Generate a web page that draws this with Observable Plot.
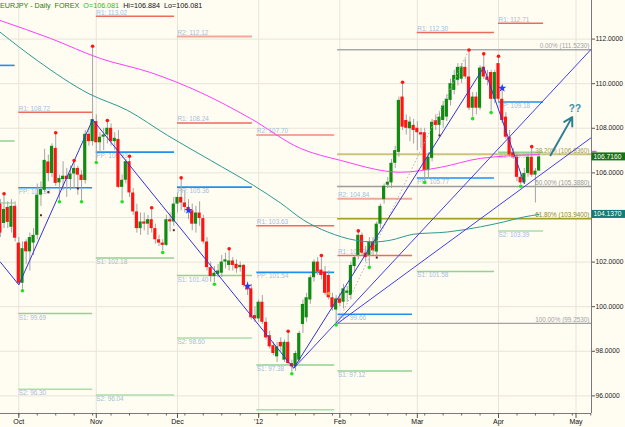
<!DOCTYPE html>
<html><head><meta charset="utf-8">
<script src="https://cdn.jsdelivr.net/npm/d3@7"></script>
<script src="https://cdn.jsdelivr.net/npm/@observablehq/plot@0.6"></script>
<style>
html,body{margin:0;padding:0;background:#fffcf2;}
#chart svg{display:block;}
</style></head><body><div id="chart"></div>
<script>
// ---------- data ----------
const symbolName = "EURJPY - Daily";
const market = "FOREX";
const firstIndex = -5; // bar index of first candle (0 = 3 Oct 2011)
const opens = [104.6,103.73,104.45,103.56,104.5,102.85,101.05,102.9,102.46,102.85,103.2,105.0,105.22,106.49,105.97,107.1,105.55,105.7,105.85,105.7,105.95,106.2,105.9,105.66,107.73,107.4,108.3,107.35,107.6,107.7,108.0,107.4,107.5,105.35,105.67,106.5,105.1,104.25,103.5,103.8,103.7,103.9,103.5,103.0,102.85,102.75,103.9,103.8,104.6,104.9,104.65,104.45,104.3,103.7,104.2,103.95,102.9,101.75,101.35,101.45,101.5,102.0,101.85,102.05,101.9,101.75,101.85,100.95,100.8,99.6,99.45,100.2,99.3,98.7,98.25,97.75,98.4,97.6,98.4,97.45,97.3,97.6,99.2,99.5,100.3,101.3,102.0,101.64,101.55,101.4,100.4,99.85,100.35,100.2,100.6,100.5,101.8,102.3,103.2,102.4,102.3,102.9,102.45,103.7,104.8,105.45,105.55,106.43,106.92,109.4,108.35,107.98,108.13,108.0,107.8,107.8,106.1,106.65,108.35,108.13,108.35,108.5,109.25,109.7,110.15,110.2,110.73,110.3,108.9,109.4,108.9,110.74,110.3,110.5,109.3,110.9,109.3,108.5,107.6,106.9,106.7,105.8,105.55,105.97,106.7,105.9,106.081];
const highs = [104.8,105.0,104.7,104.8,104.7,103.1,102.9,103.0,103.3,103.5,105.5,105.6,107.06,106.8,107.3,107.73,105.9,106.5,106.2,106.3,106.49,106.3,106.1,107.9,108.0,111.61,108.6,107.8,108.0,108.28,108.2,107.8,107.9,105.9,106.6,106.68,105.3,104.6,104.2,104.2,104.1,104.37,103.7,103.2,103.0,104.1,104.2,104.9,105.1,105.71,105.2,104.8,104.6,104.5,104.7,104.1,103.1,102.0,101.8,101.9,102.3,102.4,102.53,102.2,102.1,102.0,101.9,101.1,101.0,100.0,100.3,100.5,99.5,98.9,98.4,98.4,98.6,98.5,98.83,97.6,98.0,98.9,100.3,100.6,101.4,102.1,102.2,102.23,101.8,101.6,100.6,100.5,100.6,101.0,100.9,102.0,102.3,103.33,103.3,102.7,103.1,103.1,103.8,104.6,105.5,105.8,106.6,107.2,109.4,110.0,108.6,108.5,108.4,108.3,108.0,108.0,106.9,108.4,108.6,108.7,109.2,109.5,110.2,110.6,110.9,110.9,111.1,111.44,109.6,109.6,110.8,111.27,110.6,110.6,110.6,111.16,109.8,108.7,107.9,107.1,106.9,106.0,106.2,106.8,107.11,106.2,106.884];
const lows = [103.1,103.5,103.5,103.3,102.9,100.95,100.78,101.9,101.6,102.3,103.0,104.5,105.1,105.6,105.8,105.4,104.77,105.2,104.9,105.2,105.3,105.0,104.77,105.5,107.2,107.2,106.53,106.9,107.0,107.3,107.2,107.0,105.3,104.77,105.5,104.9,104.1,103.3,103.2,103.4,103.2,103.3,102.8,102.7,102.5,102.7,103.35,103.6,104.2,104.3,104.2,103.9,103.4,103.3,103.6,102.8,101.6,101.1,101.07,101.3,101.3,101.7,101.6,101.6,101.5,101.55,100.85,100.5,99.4,99.3,99.3,99.2,98.5,98.1,97.8,97.5,98.0,97.5,97.4,97.06,97.1,97.5,98.8,99.3,100.1,101.1,101.4,101.2,100.5,100.3,99.8,99.25,100.0,99.9,100.2,100.3,101.5,102.1,102.3,102.0,101.83,102.3,102.2,103.5,104.6,105.3,105.3,106.2,106.7,107.9,107.7,107.4,107.3,107.0,107.1,105.64,105.7,106.5,107.9,107.68,108.0,108.3,109.0,109.5,109.9,110.0,110.2,108.8,108.5,108.6,108.8,110.2,109.9,108.77,109.1,109.2,108.2,107.5,106.7,106.6,105.6,105.47,105.5,105.8,105.8,104.65,106.081];
const closes = [103.3,104.36,103.78,104.5,103.07,101.05,102.6,102.46,103.1,103.2,105.0,105.25,106.56,105.97,107.19,105.53,105.75,105.85,105.7,105.95,106.2,105.9,105.66,107.73,107.4,108.39,107.35,107.6,107.7,108.0,107.4,107.55,105.35,105.67,106.5,105.1,104.25,103.5,103.8,103.7,103.9,103.5,103.0,102.85,102.75,103.9,103.8,104.6,104.9,104.65,104.45,104.3,103.7,104.2,103.95,102.9,101.75,101.35,101.5,101.6,102.0,102.1,102.05,101.85,101.7,101.85,100.95,100.75,99.5,99.45,100.2,99.3,98.6,98.2,97.9,98.2,98.2,98.4,97.45,97.3,97.9,98.8,100.1,100.4,101.3,102.0,101.55,101.4,100.6,100.4,99.95,100.35,100.15,100.8,100.7,101.85,102.2,103.2,102.4,102.2,102.9,102.5,103.7,104.5,105.4,105.58,106.43,107.0,109.25,108.05,108.0,108.28,107.9,107.8,107.7,106.1,106.7,108.27,108.13,108.5,109.0,109.3,110.0,110.37,110.73,110.75,110.3,108.9,109.4,108.9,110.7,110.3,110.15,109.3,110.5,109.3,108.35,107.6,106.8,106.7,105.8,105.55,105.97,106.7,105.9,106.08,106.716];

const monthTicks = [0, 21, 43, 65, 87, 108, 130, 151];
const monthLabels = ["Oct", "Nov", "Dec", "'12", "Feb", "Mar", "Apr", "May"];
const priceTicks = [96, 98, 100, 102, 104, 106, 108, 110, 112];
const hiddenPriceLabels = [104]; // covered by the MA value box in the reference

// monthly pivot points (Sep .. Apr)
const pivotStart = [-5, 0, 21, 43, 64.5, 86.5, 108, 130];
const pivotEnd   = [-1, 20, 42.2, 63.3, 85.6, 106.7, 128.9, 142.2];
const pivotShown = [false, true, true, true, true, true, true, true];
const pivotR2 = [NaN, NaN, NaN, 112.12, 107.70, 104.84, NaN, NaN];
const pivotR1 = [NaN, 108.72, 113.02, 108.24, 103.63, 102.30, 112.30, 112.71];
const pivotPP = [110.82, 105.33, 106.93, 105.36, 101.54, 99.66, 105.77, 109.18];
const pivotS1 = [107.43, 99.69, 102.18, 101.40, 97.38, 97.12, 101.58, 106.92];
const pivotS2 = [104.65, 96.30, 96.04, 98.60, 95.38, NaN, NaN, 103.39];

// moving averages
const magentaIdx  = [-5, 8.6, 22.1, 35.7, 49.2, 62.8, 76.3, 87.2, 103.4, 114.3, 125.1, 141];
const magentaVals = [112.83, 112.03, 111.13, 110.50, 109.61, 108.44, 107.10, 106.56, 106.03, 106.25, 106.65, 106.82];
const tealIdx  = [-5, 5, 19, 29.5, 40.3, 52, 63.6, 71, 77.2, 83.7, 91.2, 96.1, 100.7, 107, 116.2, 125.1, 131.4, 136.8, 141];
const tealVals = [112.30, 111.04, 109.55, 108.80, 107.68, 106.56, 105.44, 104.64, 103.88, 103.35, 102.98, 102.90, 102.98, 103.25, 103.35, 103.58, 103.80, 104.02, 104.137];

// zigzag and trend lines
const zigIdx  = [-5, 0, 20, 74.5, 126, 137];
const zigVals = [102.0, 100.98, 108.39, 97.24, 110.74, 105.52];
const trendFrom = [[74.5, 97.24], [86.4, 99.25]];
const trendTo   = [[155.2, 111.56], [155.2, 107.59]];

// fibonacci retracement (99.253 -> 111.523)
const fibLowIdx = 86.4, fibHighIdx = 122;
const fibPct   = [0, 38.2, 50, 61.8, 100];
const fibVals  = [111.523, 106.836, 105.388, 103.940, 99.253];
const fibColor = ["#a9a9a9", "#cbc47e", "#9c9c9c", "#a59c22", "#a3a3a3"];
const fibText  = ["#a3a3a3", "#a39c52", "#9a9a9a", "#8f8a1e", "#a3a3a3"];

// swing markers
const swingHighIdx = [-4, 10, 15, 20, 24, 30, 36, 44, 57, 73, 82, 92, 104, 122, 126, 130, 139];
const swingHighVal = [105.0, 107.73, 106.49, 111.61, 108.28, 106.68, 104.37, 105.71, 102.53, 98.83, 102.23, 103.33, 110.0, 111.44, 111.27, 111.16, 107.11];
const swingLowIdx = [1, 11, 17, 21, 28, 39, 53, 74, 86, 95, 110, 123, 128, 136];
const swingLowVal = [100.78, 104.77, 104.77, 106.53, 104.77, 102.5, 101.07, 97.06, 99.25, 101.83, 105.64, 108.5, 108.77, 105.47];
const starIdx = [46, 62, 131];
const starVal = [104.32, 100.92, 109.8];
const tickMarkIdx = [6, 8, 16, 42, 97, 114];
const tickMarkVal = [104.1, 105.14, 105.3, 103.43, 102.2, 107.68];
const orangeIdx = [84], orangeVal = [100.59];

// projection arrow
const arrowFrom = [144.1, 106.79], arrowTo = [149.97, 108.5];
const arrowText = "??", arrowTextAt = [150.7, 108.87];

// ---------- build ----------
const X0 = -4.96, X1 = 155.2, Y0 = 95.21, Y1 = 113.73;
const bars = opens.map((o, k) => ({i: firstIndex + k, o, h: highs[k], l: lows[k], c: closes[k]}));
const lastBar = bars[bars.length - 1];

const levelNames = ["R2", "R1", "PP", "S1", "S2"];
const levelArrays = [pivotR2, pivotR1, pivotPP, pivotS1, pivotS2];
const levelColor = {R2: "#f3a797", R1: "#ee6b5b", PP: "#2090ef", S1: "#90d290", S2: "#a8dea8"};
const levelWidth = {R2: 2, R1: 1.5, PP: 1.6, S1: 1.5, S2: 1.5};
const pivots = [];
pivotStart.forEach((s, m) => {
  levelNames.forEach((name, j) => {
    const v = levelArrays[j][m];
    if (!isNaN(v)) pivots.push({x1: s, x2: pivotEnd[m], y: v, name, show: pivotShown[m] && v > 95.7,
      label: `${name}: ${v.toFixed(2)}`});
  });
});
const fibs = fibVals.map((v, k) => ({y: v, color: fibColor[k], tcolor: fibText[k],
  label: `${fibPct[k].toFixed(2)}% (${v.toFixed(4)})`}));
const zig = zigIdx.map((x, k) => ({x, y: zigVals[k]}));
const trends = trendFrom.map((f, k) => ({x1: f[0], y1: f[1], x2: trendTo[k][0], y2: trendTo[k][1]}));
const pts = (xs, ys) => xs.map((x, k) => ({x, y: ys[k]}));
const weekTicks = d3.range(-5, 156, 5);
const font = "'Liberation Sans', Arial, sans-serif";

const plot = Plot.plot({
  width: 625, height: 427,
  marginLeft: 0, marginRight: 34, marginTop: 0, marginBottom: 14,
  style: {background: "#fffcf2", fontFamily: font, overflow: "visible"},
  x: {domain: [X0, X1], axis: null},
  y: {domain: [Y0, Y1], axis: null},
  marks: [
    Plot.gridX(monthTicks, {stroke: "#e8e4da", strokeOpacity: 1}),
    Plot.gridY(priceTicks, {stroke: "#e8e4da", strokeOpacity: 1}),
    // pivot lines
    Plot.ruleY(pivots, {y: "y", x1: "x1", x2: "x2", stroke: d => levelColor[d.name], strokeWidth: d => levelWidth[d.name]}),
    Plot.text(pivots.filter(d => d.show && d.name[0] === "R"), {x: "x1", y: "y", text: "label", textAnchor: "start", lineAnchor: "bottom", dy: -1.5, fill: "#a6bedd", fontSize: 6.4}),
    Plot.text(pivots.filter(d => d.show && d.name[0] !== "R"), {x: "x1", y: "y", text: "label", textAnchor: "start", lineAnchor: "top", dy: 1.5, fill: "#a6bedd", fontSize: 6.4}),
    // fibonacci
    Plot.ruleY(fibs, {y: "y", x1: fibLowIdx, x2: X1, stroke: "color", strokeWidth: d => d.y === 106.836 ? 2 : 1.4}),
    Plot.text(fibs, {x: X1, y: "y", text: "label", textAnchor: "end", lineAnchor: "bottom", dx: -2, dy: -1.5, fill: "tcolor", fontSize: 6.4}),
    // candles
    Plot.ruleX(bars, {x: "i", y1: "l", y2: "h", stroke: "#a4a4a4", strokeWidth: 1}),
    Plot.rect(bars, {x1: d => d.i - 0.43, x2: d => d.i + 0.43, y1: "o", y2: "c",
      fill: d => d.c >= d.o ? "#118a11" : "#ff1414"}),
    // moving averages
    Plot.line(pts(tealIdx, tealVals), {x: "x", y: "y", stroke: "#2a9b92", strokeWidth: 1, curve: "monotone-x"}),
    Plot.line(pts(magentaIdx, magentaVals), {x: "x", y: "y", stroke: "#ff3dff", strokeWidth: 1, curve: "monotone-x"}),
    // fib diagonal + trend lines + zigzag
    Plot.link([{}], {x1: fibLowIdx, y1: fibVals[4], x2: fibHighIdx, y2: fibVals[0], stroke: "#b5b5b5", strokeDasharray: "1.5,2", strokeWidth: 1}),
    Plot.link(trends, {x1: "x1", y1: "y1", x2: "x2", y2: "y2", stroke: "#3f3ff0", strokeWidth: 1}),
    Plot.line(zig, {x: "x", y: "y", stroke: "#3333dd", strokeWidth: 1}),
    // markers
    Plot.dot(pts(swingHighIdx, swingHighVal), {x: "x", y: "y", r: 1.8, fill: "#ff1414", dy: -1.5}),
    Plot.dot(pts(swingLowIdx, swingLowVal), {x: "x", y: "y", r: 1.8, fill: "#22e022", dy: 1.5}),
    Plot.dot(pts(starIdx, starVal), {x: "x", y: "y", r: 2.6, symbol: "star", fill: "#1f3cff"}),
    Plot.dot(pts(tickMarkIdx, tickMarkVal), {x: "x", y: "y", r: 1.1, symbol: "square", fill: "#7a1010"}),
    Plot.dot(pts(orangeIdx, orangeVal), {x: "x", y: "y", r: 1.8, fill: "#ff9a1f"}),
    // projection arrow
    Plot.arrow([{}], {x1: arrowFrom[0], y1: arrowFrom[1], x2: arrowTo[0], y2: arrowTo[1], stroke: "#2f7f93", strokeWidth: 2, headLength: 7}),
    Plot.text([arrowText], {x: arrowTextAt[0], y: arrowTextAt[1], text: d => d, fill: "#3a8ea6", fontSize: 10, fontWeight: "bold"}),
    // frame + axes
    Plot.ruleY([Y0], {stroke: "#7a7a7a"}),
    Plot.ruleX([X1], {stroke: "#7a7a7a"}),
    Plot.axisY({anchor: "right", ticks: priceTicks, tickFormat: d => hiddenPriceLabels.includes(d) ? "" : d.toFixed(4), tickSize: 3, tickPadding: 1, fontSize: 6.7, stroke: "#555", fill: "#222"}),
    Plot.axisX({ticks: weekTicks.filter(t => t > X0 && t < X1), tickSize: 2.5, tickFormat: () => "", stroke: "#666"}),
    Plot.axisX({ticks: monthTicks, tickSize: 5, tickPadding: 1, tickFormat: d => monthLabels[monthTicks.indexOf(d)], fontSize: 7, stroke: "#555", fill: "#111"})
  ]
});

// header and value boxes (positioned with the plot's own scales)
const svg = d3.select(plot);
const ys = plot.scale("y");
const hdr = svg.append("text").attr("x", 0).attr("y", 7.5).attr("text-anchor", "start")
  .attr("font-size", 7.2).attr("font-family", font);
hdr.append("tspan").attr("fill", "#2c7d0c").text(`${symbolName}  ${market}`);
hdr.append("tspan").attr("dx", 4).attr("fill", "#18c218").text(`O=${lastBar.o.toFixed(3)}`);
hdr.append("tspan").attr("dx", 4).attr("fill", "#111").text(`Hi=${lastBar.h.toFixed(3)}`);
hdr.append("tspan").attr("dx", 4).attr("fill", "#111").text(`Lo=${lastBar.l.toFixed(3)}`);

const xr = 591.5;
const magEnd = ys.apply(magentaVals[magentaVals.length - 1]);
svg.append("line").attr("x1", xr).attr("x2", xr + 5).attr("y1", magEnd - 2.5).attr("y2", magEnd - 2.5).attr("stroke", "#ff3dff").attr("stroke-width", 1.5);
[[lastBar.c, "#137313"], [tealVals[tealVals.length - 1], "#177a76"]].forEach(([v, col]) => {
  const y = ys.apply(v);
  svg.append("rect").attr("x", xr).attr("y", y - 4).attr("width", 34).attr("height", 8).attr("fill", col);
  svg.append("text").attr("x", xr + 2).attr("y", y + 2.4).attr("text-anchor", "start")
    .attr("font-size", 6.7).attr("font-family", font).attr("fill", "#fff").text(v.toFixed(4));
});

document.getElementById("chart").appendChild(plot);
</script>
</body></html>
